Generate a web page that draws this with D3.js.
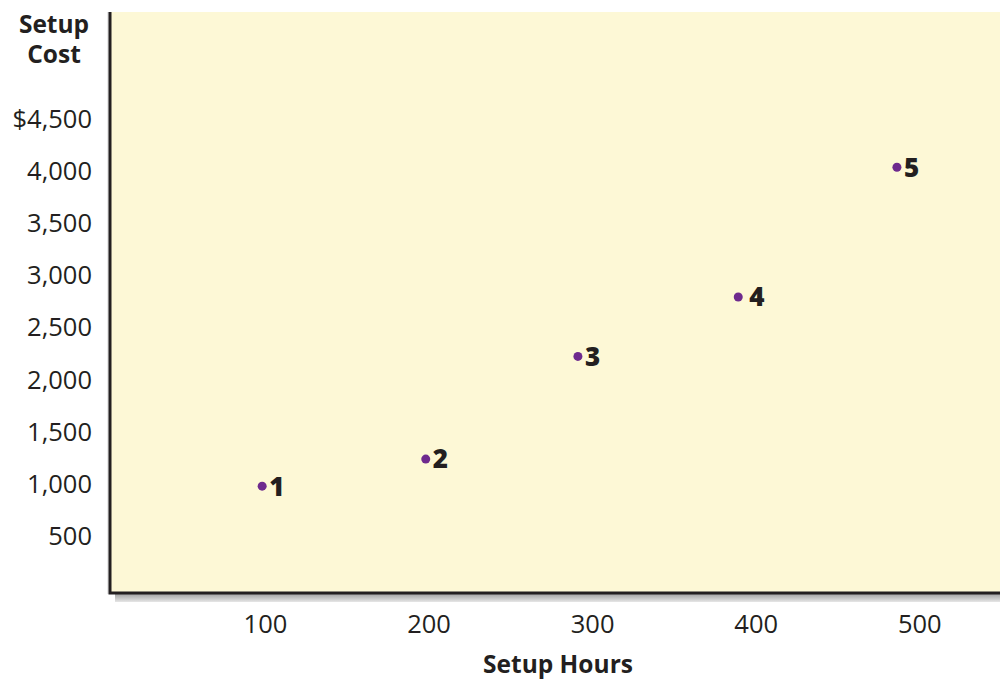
<!DOCTYPE html>
<html>
<head>
<meta charset="utf-8">
<script src="https://cdn.jsdelivr.net/npm/d3@7"></script>
<style>
  body { margin: 0; background: #fff; }
  text { font-family: "Open Sans", sans-serif; fill: #231f20; }
</style>
</head>
<body>
<div id="chart"></div>
<script>
const WIDTH = 1000;
const HEIGHT = 680;

// data
const points = ["1", "2", "3", "4", "5"];
const setupHours = [98, 198, 291, 389, 486];
const setupCost = [975, 1235, 2220, 2790, 4035];
const xTicks = [100, 200, 300, 400, 500];
const yTicks = [500, 1000, 1500, 2000, 2500, 3000, 3500, 4000, 4500];
const labelGap = [9, 9, 9, 13, 9]; // point 4 label sits a bit further out

const plotLeft = 110, plotRight = 1000, plotTop = 12, plotBottom = 593;

var svg = d3.select("#chart") //main svg
  .append("svg")
  .attr("width", WIDTH)
  .attr("height", HEIGHT);

var x = d3.scaleLinear().domain([5, 549]).range([plotLeft, plotRight]);
var y = d3.scaleLinear().domain([-50, 5525]).range([plotBottom, plotTop]);

// shadow under the bottom axis
var grad = svg.append("defs").append("linearGradient")
  .attr("id", "shadow").attr("x1", 0).attr("x2", 0).attr("y1", 0).attr("y2", 1);
grad.append("stop").attr("offset", "0%").attr("stop-color", "#9a9a9a");
grad.append("stop").attr("offset", "100%").attr("stop-color", "#e6e6e6");

svg.append("rect")
  .attr("x", plotLeft + 5).attr("y", plotBottom)
  .attr("width", plotRight - plotLeft).attr("height", 9)
  .attr("fill", "url(#shadow)");

// plot background
svg.append("rect")
  .attr("x", plotLeft).attr("y", plotTop)
  .attr("width", plotRight - plotLeft).attr("height", plotBottom - plotTop)
  .attr("fill", "#fdf8d6");

// axis lines
svg.append("line")
  .attr("x1", plotLeft - 2).attr("x2", plotLeft - 2)
  .attr("y1", plotTop).attr("y2", plotBottom + 1)
  .attr("stroke", "#d0d0d0").attr("stroke-width", 1);
svg.append("path")
  .attr("d", `M${plotLeft},${plotTop}V${plotBottom}H${plotRight}`)
  .attr("fill", "none")
  .attr("stroke", "#231f20")
  .attr("stroke-width", 3);

// y axis labels
var fmt = d3.format(",");
svg.append("g")
  .selectAll("text")
  .data(yTicks)
  .join("text")
    .attr("x", 92)
    .attr("y", d => y(d))
    .attr("dy", "0.36em")
    .attr("text-anchor", "end")
    .attr("font-size", 25.5)
    .text(d => d === 4500 ? "$" + fmt(d) : fmt(d));

// x axis labels
svg.append("g")
  .selectAll("text")
  .data(xTicks)
  .join("text")
    .attr("x", d => x(d))
    .attr("y", 624)
    .attr("dy", "0.36em")
    .attr("text-anchor", "middle")
    .attr("font-size", 25.5)
    .text(d => d);

// axis titles
svg.append("text")
  .attr("x", 54).attr("y", 33)
  .attr("text-anchor", "middle")
  .attr("font-size", 24.5).attr("font-weight", 700)
  .text("Setup");
svg.append("text")
  .attr("x", 54).attr("y", 63)
  .attr("text-anchor", "middle")
  .attr("font-size", 24.5).attr("font-weight", 700)
  .text("Cost");
svg.append("text")
  .attr("x", 558).attr("y", 673)
  .attr("text-anchor", "middle")
  .attr("font-size", 24.5).attr("font-weight", 700)
  .text("Setup Hours");

// points
var pts = svg.append("g")
  .selectAll("g")
  .data(points)
  .join("g")
    .attr("transform", (d, i) => `translate(${x(setupHours[i])},${y(setupCost[i])})`);

pts.append("circle")
  .attr("r", 4.5)
  .attr("fill", "#6e2a8e");

pts.append("text")
  .attr("x", (d, i) => labelGap[i] - 2)
  .attr("dy", "0.36em")
  .attr("font-size", 26)
  .attr("font-weight", 800)
  .text(d => d);
</script>
</body>
</html>
